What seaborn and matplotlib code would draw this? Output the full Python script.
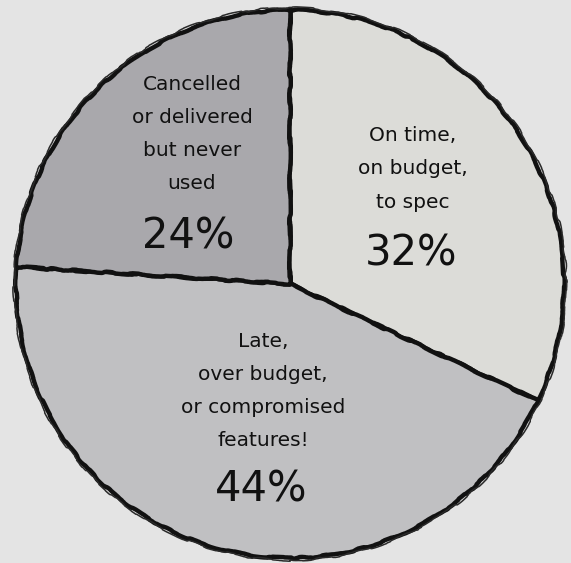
import matplotlib
matplotlib.use("Agg")
import matplotlib.pyplot as plt
import seaborn as sns

# ---- data ----
categories = [
    "On time,\non budget,\nto spec",
    "Late,\nover budget,\nor compromised\nfeatures!",
    "Cancelled\nor delivered\nbut never\nused",
]
shares = [32, 44, 24]
pct_labels = ["32%", "44%", "24%"]

# ---- style ----
slice_colors = ["#dcdcd8", "#c0c0c2", "#a9a8ac"]
bg = "#e4e4e4"
ink = "#111111"

sns.set_theme(style="white")
plt.rcParams["font.family"] = ["DejaVu Sans"]

W, H = 571, 563
fig = plt.figure(figsize=(W / 100, H / 100), dpi=100, facecolor=bg)
ax = fig.add_axes([0, 0, 1, 1])
ax.set_facecolor(bg)

wedges, _ = ax.pie(
    shares,
    colors=slice_colors,
    startangle=90,
    counterclock=False,
    radius=1.0,
    wedgeprops=dict(edgecolor=ink, linewidth=3.2, joinstyle="round"),
)
for w in wedges:
    w.set_sketch_params(scale=0.8, length=120, randomness=20)

# second faint outer stroke for the hand-drawn double rim
rim = plt.Circle((0, 0), 1.008, fill=False, edgecolor="#2a2a2a", linewidth=1.1)
rim.set_sketch_params(scale=1.0, length=150, randomness=25)
ax.add_patch(rim)

# place axes so pie centre is at (290, 284) px, radius 274 px
cx, cy, R = 290, 284, 274
ax.set_xlim(-cx / R, (W - cx) / R)
ax.set_ylim(-(H - cy) / R, cy / R)
ax.set_aspect("equal", adjustable="box")
ax.axis("off")

# label layout in pixel coordinates (centre of description block, centre of pct)
desc_pos = [(413, 169), (263, 391), (192, 134)]
pct_pos = [(411, 253), (261, 489), (188, 236)]

def to_fig(p):
    return (p[0] / W, 1 - p[1] / H)

for txt, pct, dp, pp in zip(categories, pct_labels, desc_pos, pct_pos):
    fig.text(*to_fig(dp), txt, ha="center", va="center", fontsize=14.5,
             color=ink, linespacing=1.95)
    fig.text(*to_fig(pp), pct, ha="center", va="center", fontsize=30,
             color=ink)

fig.savefig("out.png", dpi=100, facecolor=bg)
